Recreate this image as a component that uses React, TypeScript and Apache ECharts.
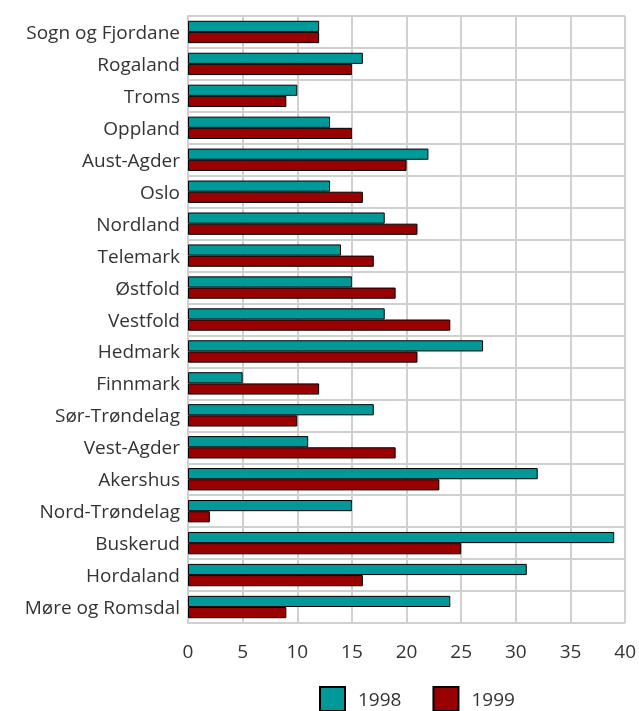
import React, { useEffect, useRef } from "react";
import * as echarts from "echarts";

const categories = [
  "Sogn og Fjordane", "Rogaland", "Troms", "Oppland", "Aust-Agder", "Oslo",
  "Nordland", "Telemark", "Østfold", "Vestfold", "Hedmark", "Finnmark",
  "Sør-Trøndelag", "Vest-Agder", "Akershus", "Nord-Trøndelag", "Buskerud",
  "Hordaland", "Møre og Romsdal",
];
const values1998 = [12, 16, 10, 13, 22, 13, 18, 14, 15, 18, 27, 5, 17, 11, 32, 15, 39, 31, 24];
const values1999 = [12, 15, 9, 15, 20, 16, 21, 17, 19, 24, 21, 12, 10, 19, 23, 2, 25, 16, 9];
const seriesNames = ["1998", "1999"];
const xTicks = { min: 0, max: 40, interval: 5 };

export default function App() {
  const ref = useRef<HTMLDivElement>(null);
  useEffect(() => {
    if (!ref.current) return;
    const chart = echarts.init(ref.current, null, { renderer: "svg" });
    const font = "'Open Sans', sans-serif";
    chart.setOption({
      animation: false,
      textStyle: { fontFamily: font },
      grid: { left: 188, right: 12, top: 16, bottom: 88, containLabel: false },
      legend: {
        top: 686,
        left: 319,
        padding: 0,
        itemWidth: 25,
        itemHeight: 24,
        itemGap: 31,
        icon: "rect",
        textStyle: { fontSize: 19, color: "#333", fontFamily: font, padding: [0, 0, 0, 8] },
        data: seriesNames,
      },
      xAxis: {
        type: "value",
        min: xTicks.min,
        max: xTicks.max,
        interval: xTicks.interval,
        axisLine: { show: false },
        axisTick: { show: false },
        axisLabel: { fontSize: 19, color: "#333", margin: 18, fontFamily: font },
        splitLine: { show: true, lineStyle: { color: "#d0d0d0", width: 2 } },
      },
      yAxis: {
        type: "category",
        data: categories,
        inverse: true,
        axisLine: { show: true, lineStyle: { color: "#d0d0d0", width: 2 } },
        axisTick: { show: false },
        axisLabel: { fontSize: 19, color: "#333", margin: 8, fontFamily: font },
        splitLine: { show: true, lineStyle: { color: "#d0d0d0", width: 2 } },
      },
      series: [
        {
          name: seriesNames[0],
          type: "bar",
          data: values1998,
          barGap: "0%",
          barCategoryGap: "30%",
          itemStyle: { color: "#009999", borderColor: "#000", borderWidth: 1 },
        },
        {
          name: seriesNames[1],
          type: "bar",
          data: values1999,
          barGap: "0%",
          barCategoryGap: "30%",
          itemStyle: { color: "#990000", borderColor: "#000", borderWidth: 1 },
        },
      ],
    });
    return () => chart.dispose();
  }, []);
  return (
    <div
      ref={ref}
      style={{ position: "fixed", left: 0, top: 0, width: 639, height: 711 }}
    />
  );
}
